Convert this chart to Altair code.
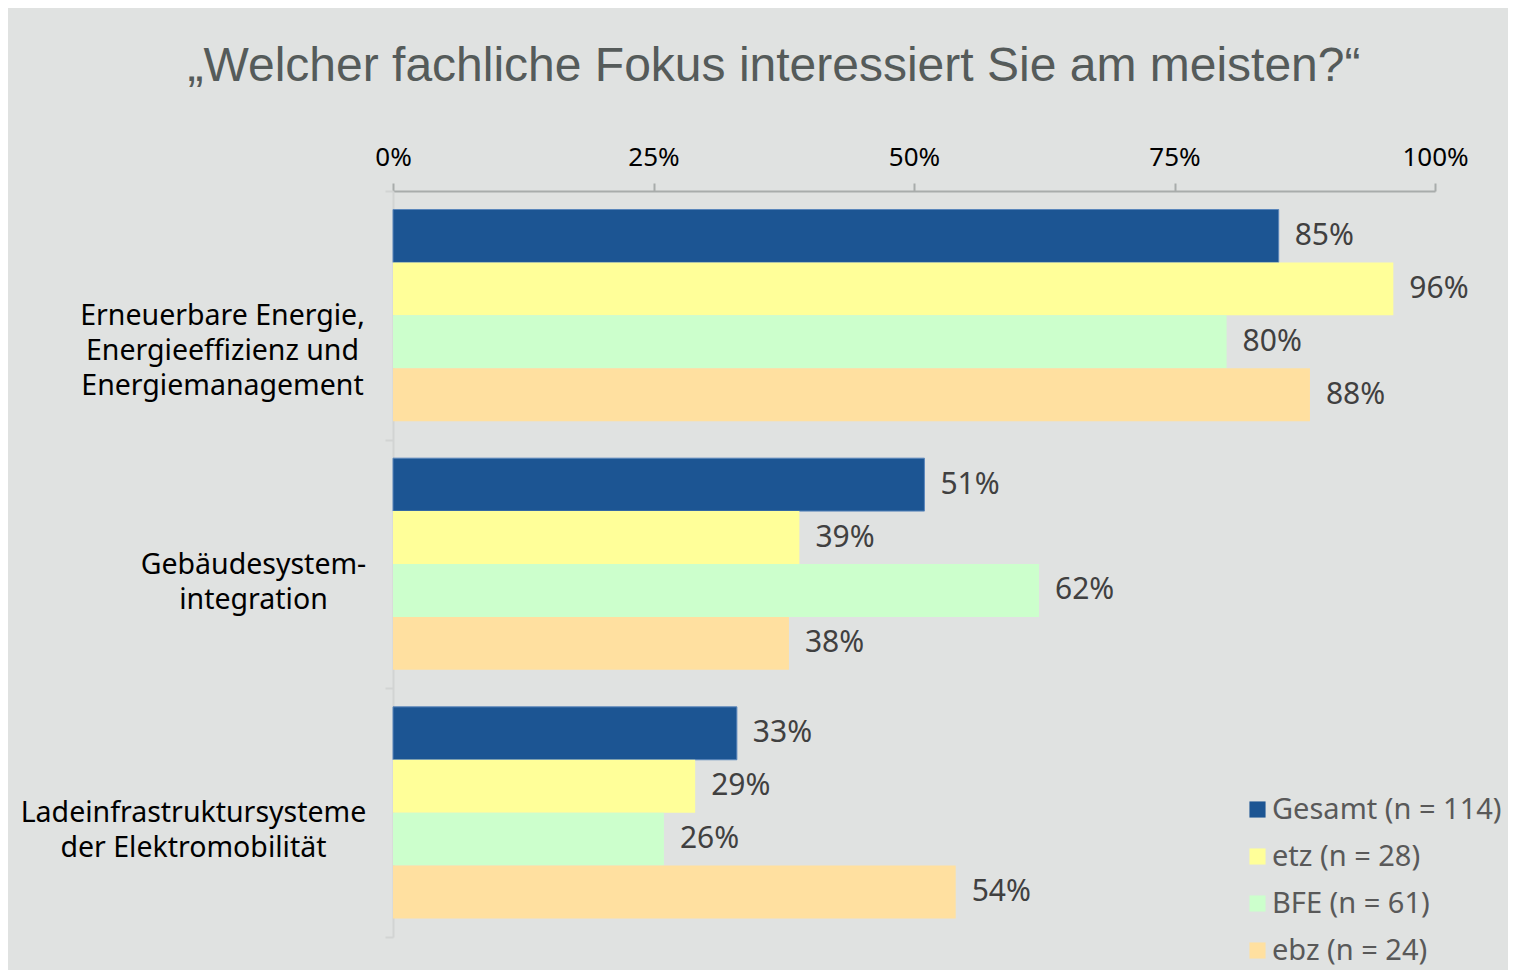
import altair as alt
import pandas as pd

categories = [
    "Erneuerbare Energie,|Energieeffizienz und|Energiemanagement",
    "Gebäudesystem-|integration",
    "Ladeinfrastruktursysteme|der Elektromobilität",
]
series = ["Gesamt (n = 114)", "etz (n = 28)", "BFE (n = 61)", "ebz (n = 24)"]
colors = ["#1c5593", "#ffff99", "#ccffcc", "#ffe0a0"]
gesamt = [85, 51, 33]
etz = [96, 39, 29]
bfe = [80, 62, 26]
ebz = [88, 38, 54]
x_ticks = [0, 25, 50, 75, 100]

rows = []
for s, vals in zip(series, [gesamt, etz, bfe, ebz]):
    for c, v in zip(categories, vals):
        rows.append({"cat": c, "series": s, "value": v, "label": f"{v}%"})
df = pd.DataFrame(rows)

FONT = "Noto Sans"

label_pad = {
    "condition": [
        {"test": f"datum.value === '{categories[0]}'", "value": 163},
        {"test": f"datum.value === '{categories[1]}'", "value": 132},
    ],
    "value": 192,
}

base = alt.Chart(df).encode(
    y=alt.Y(
        "cat:N",
        sort=categories,
        scale=alt.Scale(paddingInner=0, paddingOuter=0),
        axis=alt.Axis(
            title=None,
            labelExpr="split(datum.label, '|')",
            labelLimit=0,
            tickBand="extent",
            domainColor="#d2d4d3",
            domainWidth=2,
            tickColor="#d2d4d3",
            tickWidth=2,
            tickSize=8,
            labelFont=FONT,
            labelFontSize=28.5,
            labelColor="#000000",
            labelAlign="center",
            labelBaseline="middle",
            labelLineHeight=35,
            labelPadding=label_pad,
        ),
    ),
    yOffset=alt.YOffset(
        "series:N", sort=series, scale=alt.Scale(paddingOuter=0.35, paddingInner=0)
    ),
    x=alt.X(
        "value:Q",
        scale=alt.Scale(domain=[0, 100]),
        axis=alt.Axis(
            orient="top",
            title=None,
            values=x_ticks,
            labelExpr="datum.value + '%'",
            labelFlush=False,
            grid=False,
            domainColor="#a8acab",
            domainWidth=2,
            tickColor="#a8acab",
            tickWidth=2,
            tickSize=8,
            labelFont=FONT,
            labelFontSize=26,
            labelColor="#000000",
            labelPadding=13,
        ),
    ),
)

bars = base.mark_bar().encode(
    color=alt.Color(
        "series:N",
        sort=series,
        scale=alt.Scale(domain=series, range=colors),
        legend=alt.Legend(
            title=None,
            orient="none",
            legendX=850,
            legendY=604,
            symbolType="square",
            symbolSize=260,
            symbolStrokeWidth=0,
            labelFont=FONT,
            labelFontSize=29,
            labelLimit=0,
            labelColor="#595959",
            rowPadding=17,
            labelOffset=0,
        ),
    ),
    stroke=alt.condition(
        alt.datum.series == series[0], alt.value("#5a86bb"), alt.value("transparent")
    ),
    strokeWidth=alt.value(1),
)

labels = base.mark_text(
    align="left", baseline="middle", dx=16, font=FONT, fontSize=30, color="#404040"
).encode(text="label:N")

chart = (
    alt.layer(bars, labels)
    .properties(
        width=1042,
        height=746,
        title=alt.Title(
            "„Welcher fachliche Fokus interessiert Sie am meisten?“",
            font="Liberation Sans",
            fontSize=48,
            fontWeight="normal",
            color="#555b5a",
            anchor="middle",
            dx=-140,
            offset=53,
        ),
        autosize=alt.AutoSizeParams(type="none"),
        padding={"left": 385, "top": 183, "right": 73, "bottom": 33},
    )
    .configure(background="#e0e2e1")
    .configure_view(stroke=None)
)

chart.save("out.html", embed_options={"renderer": "svg", "actions": False})
